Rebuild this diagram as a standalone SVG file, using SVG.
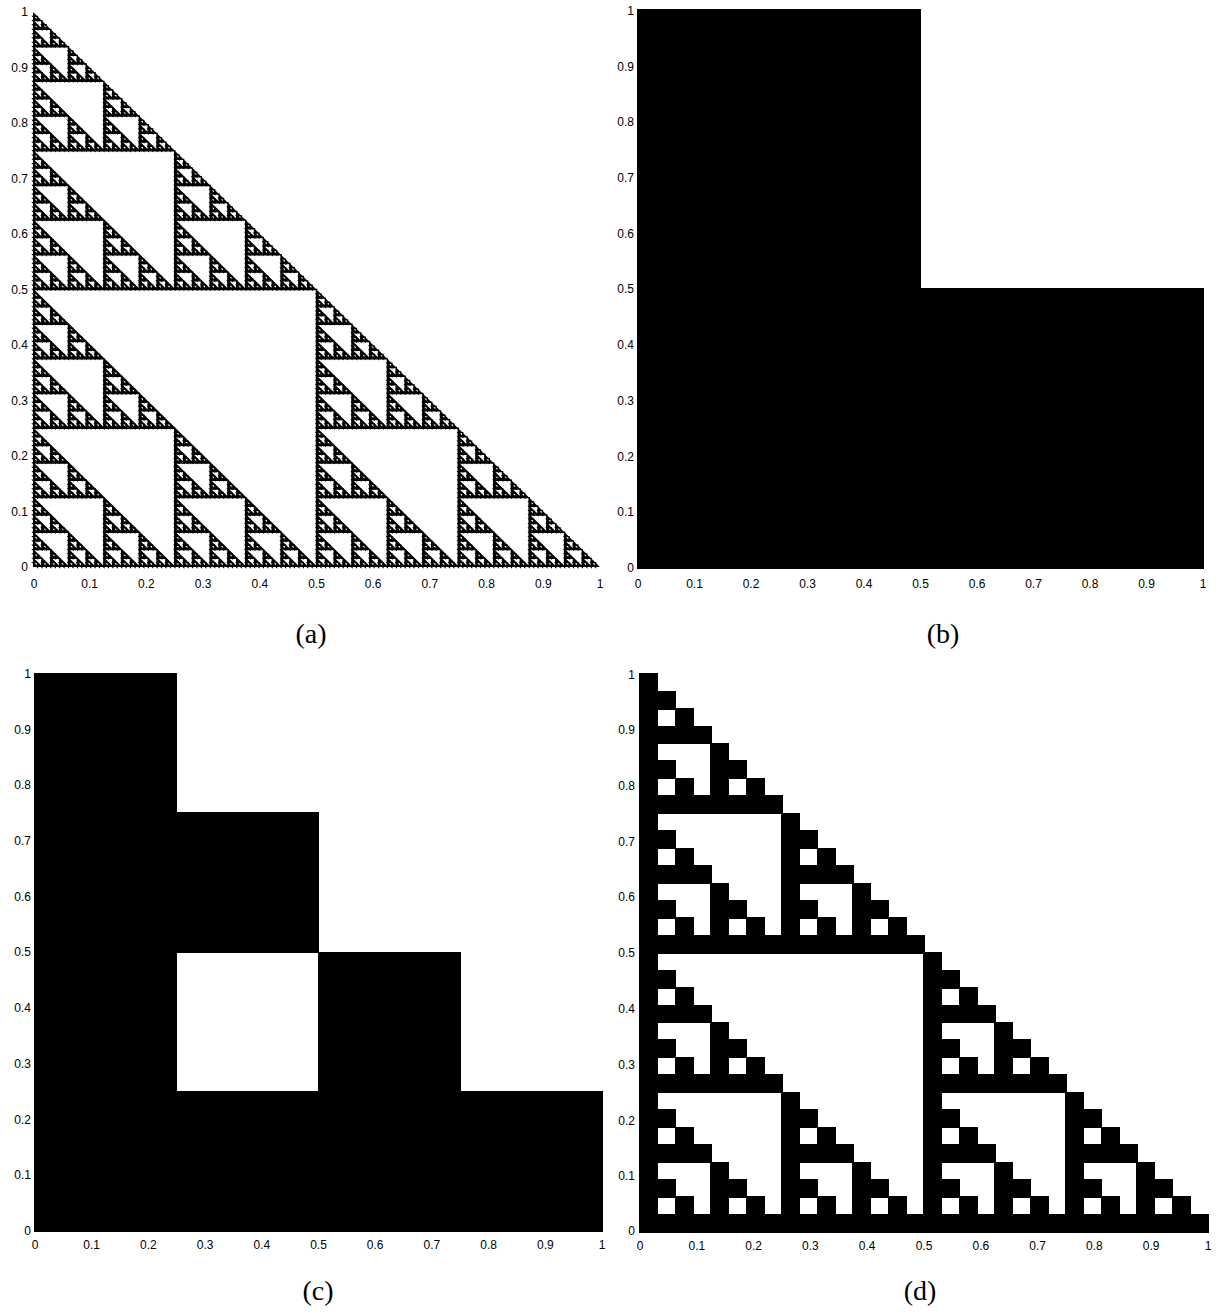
<svg xmlns="http://www.w3.org/2000/svg" width="1225" height="1315" viewBox="0 0 1225 1315">
<style>
.t{font-family:"Liberation Sans",Arial,sans-serif;font-size:12px;fill:#000}
.ty{text-anchor:end}
.tx{text-anchor:middle}
.cap{font-family:"Liberation Serif","Times New Roman",serif;font-size:28px;text-anchor:middle;fill:#000}
.hole{fill:#fff;stroke:#000;stroke-width:1.4;vector-effect:non-scaling-stroke}
.cell{fill:#000;stroke:#000;stroke-width:1.4;vector-effect:non-scaling-stroke;shape-rendering:crispEdges}
</style>
<defs>
<path id="A1" class="hole" d="M0 .5H.5V0Z"/>
<g id="A2"><use href="#A1"/><use href="#A1" transform="scale(.5)"/><use href="#A1" transform="translate(0 .5) scale(.5)"/><use href="#A1" transform="translate(.5 0) scale(.5)"/></g>
<g id="A3"><use href="#A1"/><use href="#A2" transform="scale(.5)"/><use href="#A2" transform="translate(0 .5) scale(.5)"/><use href="#A2" transform="translate(.5 0) scale(.5)"/></g>
<g id="A4"><use href="#A1"/><use href="#A3" transform="scale(.5)"/><use href="#A3" transform="translate(0 .5) scale(.5)"/><use href="#A3" transform="translate(.5 0) scale(.5)"/></g>
<g id="A5"><use href="#A1"/><use href="#A4" transform="scale(.5)"/><use href="#A4" transform="translate(0 .5) scale(.5)"/><use href="#A4" transform="translate(.5 0) scale(.5)"/></g>
<g id="A6"><use href="#A1"/><use href="#A5" transform="scale(.5)"/><use href="#A5" transform="translate(0 .5) scale(.5)"/><use href="#A5" transform="translate(.5 0) scale(.5)"/></g>
<g id="A7"><use href="#A1"/><use href="#A6" transform="scale(.5)"/><use href="#A6" transform="translate(0 .5) scale(.5)"/><use href="#A6" transform="translate(.5 0) scale(.5)"/></g>
<rect id="T0" class="cell" x="0" y="0" width="1" height="1"/>
<g id="T1"><use href="#T0" transform="scale(.5)"/><use href="#T0" transform="translate(0 .5) scale(.5)"/><use href="#T0" transform="translate(.5 .5) scale(.5)"/></g>
<g id="T2"><use href="#T1" transform="scale(.5)"/><use href="#T1" transform="translate(0 .5) scale(.5)"/><use href="#T1" transform="translate(.5 .5) scale(.5)"/></g>
<g id="T3"><use href="#T2" transform="scale(.5)"/><use href="#T2" transform="translate(0 .5) scale(.5)"/><use href="#T2" transform="translate(.5 .5) scale(.5)"/></g>
<g id="T4"><use href="#T3" transform="scale(.5)"/><use href="#T3" transform="translate(0 .5) scale(.5)"/><use href="#T3" transform="translate(.5 .5) scale(.5)"/></g>
<g id="T5"><use href="#T4" transform="scale(.5)"/><use href="#T4" transform="translate(0 .5) scale(.5)"/><use href="#T4" transform="translate(.5 .5) scale(.5)"/></g>
</defs>
<rect width="1225" height="1315" fill="#fff"/>

<g id="panel-a">
<g transform="translate(33 567) scale(567 -555)">
<path d="M0 0H1L0 1Z" fill="#000"/>
<use href="#A7"/>
</g>
<g class="t ty">
<text x="28" y="16">1</text><text x="28" y="72">0.9</text><text x="28" y="127">0.8</text><text x="28" y="183">0.7</text><text x="28" y="238">0.6</text><text x="28" y="294">0.5</text><text x="28" y="349">0.4</text><text x="28" y="405">0.3</text><text x="28" y="460">0.2</text><text x="28" y="516">0.1</text><text x="28" y="571">0</text>
</g>
<g class="t tx">
<text x="34" y="588">0</text><text x="89.7" y="588">0.1</text><text x="146.4" y="588">0.2</text><text x="203.1" y="588">0.3</text><text x="259.8" y="588">0.4</text><text x="316.5" y="588">0.5</text><text x="373.2" y="588">0.6</text><text x="429.9" y="588">0.7</text><text x="486.6" y="588">0.8</text><text x="543.3" y="588">0.9</text><text x="600" y="588">1</text>
</g>
<text class="cap" x="311" y="643">(a)</text>
</g>

<g id="panel-b">
<use href="#T1" transform="translate(638 9.5) scale(565 558.5)"/>
<g class="t ty">
<text x="634" y="15">1</text><text x="634" y="71">0.9</text><text x="634" y="126">0.8</text><text x="634" y="182">0.7</text><text x="634" y="238">0.6</text><text x="634" y="293">0.5</text><text x="634" y="349">0.4</text><text x="634" y="405">0.3</text><text x="634" y="461">0.2</text><text x="634" y="516">0.1</text><text x="634" y="572">0</text>
</g>
<g class="t tx">
<text x="638" y="588">0</text><text x="694.5" y="588">0.1</text><text x="751" y="588">0.2</text><text x="807.5" y="588">0.3</text><text x="864" y="588">0.4</text><text x="920.5" y="588">0.5</text><text x="977" y="588">0.6</text><text x="1033.5" y="588">0.7</text><text x="1090" y="588">0.8</text><text x="1146.5" y="588">0.9</text><text x="1203" y="588">1</text>
</g>
<text class="cap" x="943" y="643">(b)</text>
</g>

<g id="panel-c">
<use href="#T2" transform="translate(35 673.5) scale(567 557.5)"/>
<g class="t ty">
<text x="31" y="678">1</text><text x="31" y="733.5">0.9</text><text x="31" y="789">0.8</text><text x="31" y="845">0.7</text><text x="31" y="900.5">0.6</text><text x="31" y="956">0.5</text><text x="31" y="1012">0.4</text><text x="31" y="1068">0.3</text><text x="31" y="1123.5">0.2</text><text x="31" y="1179">0.1</text><text x="31" y="1235">0</text>
</g>
<g class="t tx">
<text x="35" y="1249">0</text><text x="91.7" y="1249">0.1</text><text x="148.4" y="1249">0.2</text><text x="205.1" y="1249">0.3</text><text x="261.8" y="1249">0.4</text><text x="318.5" y="1249">0.5</text><text x="375.2" y="1249">0.6</text><text x="431.9" y="1249">0.7</text><text x="488.6" y="1249">0.8</text><text x="545.3" y="1249">0.9</text><text x="602" y="1249">1</text>
</g>
<text class="cap" x="318" y="1300">(c)</text>
</g>

<g id="panel-d">
<use href="#T5" transform="translate(640 674) scale(568 558)"/>
<g class="t ty">
<text x="635" y="679">1</text><text x="635" y="734">0.9</text><text x="635" y="790">0.8</text><text x="635" y="845.5">0.7</text><text x="635" y="901">0.6</text><text x="635" y="957">0.5</text><text x="635" y="1013">0.4</text><text x="635" y="1068.5">0.3</text><text x="635" y="1124.5">0.2</text><text x="635" y="1180">0.1</text><text x="635" y="1235">0</text>
</g>
<g class="t tx">
<text x="640" y="1250">0</text><text x="696.8" y="1250">0.1</text><text x="753.6" y="1250">0.2</text><text x="810.4" y="1250">0.3</text><text x="867.2" y="1250">0.4</text><text x="924" y="1250">0.5</text><text x="980.8" y="1250">0.6</text><text x="1037.6" y="1250">0.7</text><text x="1094.4" y="1250">0.8</text><text x="1151.2" y="1250">0.9</text><text x="1208" y="1250">1</text>
</g>
<text class="cap" x="920" y="1300">(d)</text>
</g>
</svg>
